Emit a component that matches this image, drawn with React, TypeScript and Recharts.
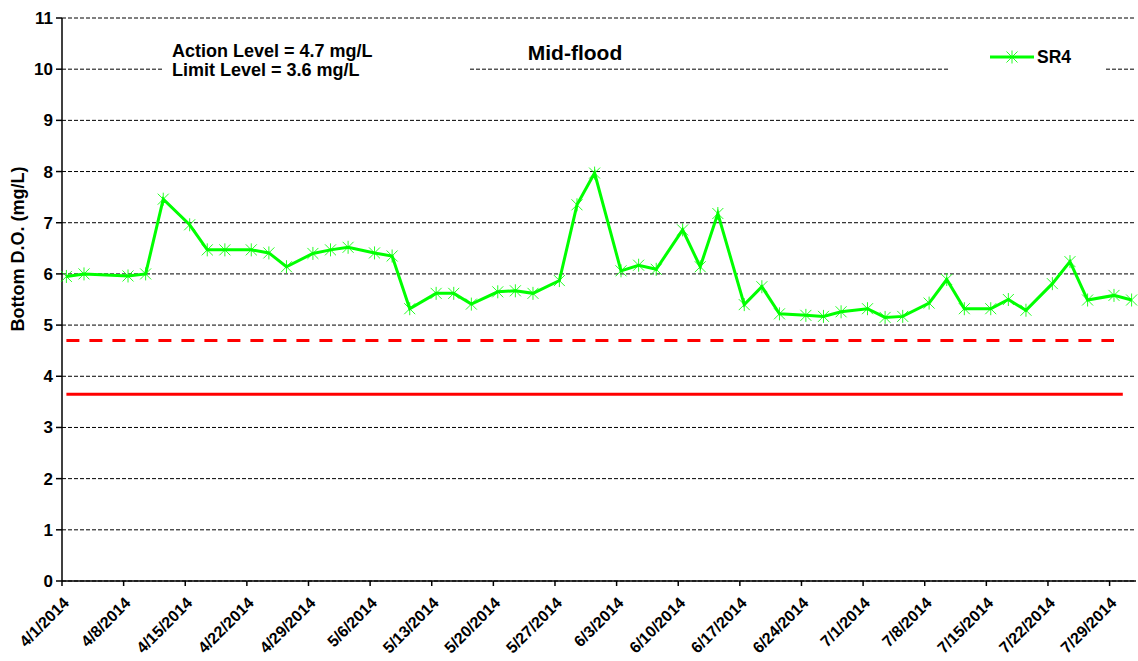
import React from "react";
import {
  LineChart,
  Line,
  XAxis,
  YAxis,
  CartesianGrid,
  ReferenceLine,
} from "recharts";

// sampling dates (2014) and bottom DO readings at SR4
const sampleDates = [
  "4/1", "4/3", "4/8", "4/10", "4/12", "4/15", "4/17", "4/19", "4/22", "4/24",
  "4/26", "4/29", "5/1", "5/3", "5/6", "5/8", "5/10", "5/13", "5/15", "5/17",
  "5/20", "5/22", "5/24", "5/27", "5/29", "5/31", "6/3", "6/5", "6/7", "6/10",
  "6/12", "6/14", "6/17", "6/19", "6/21", "6/24", "6/26", "6/28", "7/1", "7/3",
  "7/5", "7/8", "7/10", "7/12", "7/15", "7/17", "7/19", "7/22", "7/24", "7/26",
  "7/29", "7/31",
];
const sr4Values = [
  5.95, 6.0, 5.96, 6.0, 7.46, 6.96, 6.47, 6.47, 6.47, 6.41,
  6.14, 6.4, 6.47, 6.52, 6.41, 6.35, 5.32, 5.62, 5.62, 5.41,
  5.65, 5.67, 5.62, 5.87, 7.35, 7.97, 6.06, 6.17, 6.09, 6.86,
  6.14, 7.18, 5.4, 5.75, 5.22, 5.19, 5.17, 5.26, 5.32, 5.15,
  5.17, 5.43, 5.89, 5.32, 5.32, 5.5, 5.29, 5.81, 6.24, 5.49,
  5.58, 5.49,
];
const tickDates = [
  "4/1", "4/8", "4/15", "4/22", "4/29", "5/6", "5/13", "5/20", "5/27",
  "6/3", "6/10", "6/17", "6/24", "7/1", "7/8", "7/15", "7/22", "7/29",
];
const yTicks = [0, 1, 2, 3, 4, 5, 6, 7, 8, 9, 10, 11];
const actionLevel = 4.7;
const limitLevel = 3.65;
const actionEnd = "7/29";
const limitEnd = "7/30";
const axisEnd = "8/1";

const YEAR = 2014;
const START = Date.UTC(YEAR, 3, 1);
const DAY = 86400000;

function dayIndex(md: string) {
  const [m, d] = md.split("/").map(Number);
  return Math.round((Date.UTC(YEAR, m - 1, d) - START) / DAY);
}

function dayLabel(i: number) {
  const dt = new Date(START + i * DAY);
  return `${dt.getUTCMonth() + 1}/${dt.getUTCDate()}/${dt.getUTCFullYear()}`;
}

const data = sampleDates.map((d, i) => ({ day: dayIndex(d), sr4: sr4Values[i] }));
// Excel centres each date between tick marks, so ticks sit on the day boundaries
const xTicks = tickDates.map((d) => dayIndex(d) - 0.5);

const FONT = "'Liberation Sans', Arial, sans-serif";
const GREEN = "#00FF00";

const StarDot = (props: any) => {
  const { cx, cy } = props;
  if (cx == null || cy == null) return null;
  const r = 5.5;
  return (
    <g stroke={GREEN} strokeWidth={1} opacity={0.85}>
      <line x1={cx - r} y1={cy - r} x2={cx + r} y2={cy + r} />
      <line x1={cx - r} y1={cy + r} x2={cx + r} y2={cy - r} />
      <line x1={cx} y1={cy - r - 1} x2={cx} y2={cy + r + 1} />
    </g>
  );
};

const XTick = (props: any) => {
  const { x, y, payload } = props;
  return (
    <text
      transform={`translate(${x + 8},${y + 16}) rotate(-45)`}
      textAnchor="end"
      fontFamily={FONT}
      fontWeight="bold"
      fontSize={16}
      fill="#000"
    >
      {dayLabel(Math.round(payload.value + 0.5))}
    </text>
  );
};

const textStyle: React.CSSProperties = {
  position: "absolute",
  fontFamily: FONT,
  fontWeight: "bold",
  color: "#000",
  whiteSpace: "nowrap",
};

export default function App() {
  return (
    <div style={{ position: "absolute", left: 0, top: 0, width: 1138, height: 661, background: "#fff" }}>
      <LineChart
        width={1138}
        height={661}
        data={data}
        margin={{ top: 18, right: 2, left: 0, bottom: 0 }}
      >
        <CartesianGrid vertical={false} stroke="#000" strokeDasharray="4 2" />
        <XAxis
          dataKey="day"
          type="number"
          domain={[-0.5, dayIndex(axisEnd) - 0.5]}
          ticks={xTicks}
          interval={0}
          height={80}
          tick={<XTick />}
          tickSize={5}
          axisLine={{ stroke: "#000", strokeWidth: 1.5 }}
          tickLine={{ stroke: "#000", strokeWidth: 1.5 }}
        />
        <YAxis
          type="number"
          domain={[0, 11]}
          ticks={yTicks}
          interval={0}
          width={62}
          tickSize={6}
          tickMargin={3}
          axisLine={{ stroke: "#000", strokeWidth: 1.5 }}
          tickLine={{ stroke: "#000", strokeWidth: 1.5 }}
          tick={{ fontFamily: FONT, fontWeight: "bold", fontSize: 17, fill: "#000" }}
        />
        <ReferenceLine
          segment={[{ x: 0, y: actionLevel }, { x: dayIndex(actionEnd), y: actionLevel }]}
          stroke="#FF0000"
          strokeWidth={3}
          strokeDasharray="13 10"
        />
        <ReferenceLine
          segment={[{ x: 0, y: limitLevel }, { x: dayIndex(limitEnd), y: limitLevel }]}
          stroke="#FF0000"
          strokeWidth={3}
        />
        <Line
          dataKey="sr4"
          stroke={GREEN}
          strokeWidth={3}
          dot={<StarDot />}
          activeDot={false}
          isAnimationActive={false}
        />
      </LineChart>

      {/* white boxes behind the text, as in the original */}
      <div style={{ position: "absolute", left: 163, top: 40, width: 307, height: 42, background: "#fff" }} />
      <div style={{ position: "absolute", left: 950, top: 44, width: 155, height: 30, background: "#fff" }} />

      <div style={{ ...textStyle, left: 172, top: 42, fontSize: 18, lineHeight: "19px" }}>
        Action Level = 4.7 mg/L
        <br />
        Limit Level = 3.6 mg/L
      </div>
      <div style={{ ...textStyle, left: 575, top: 40, fontSize: 21, lineHeight: "25px", transform: "translateX(-50%)" }}>
        Mid-flood
      </div>

      <svg style={{ position: "absolute", left: 990, top: 50 }} width={44} height={14}>
        <line x1={0} y1={7} x2={44} y2={7} stroke={GREEN} strokeWidth={3} />
        <StarDot cx={22} cy={7} />
      </svg>
      <div style={{ ...textStyle, left: 1037, top: 46, fontSize: 17.5, lineHeight: "22px" }}>SR4</div>

      <div
        style={{
          ...textStyle,
          left: 18,
          top: 249,
          fontSize: 18,
          transform: "translate(-50%, -50%) rotate(-90deg)",
        }}
      >
        Bottom D.O. (mg/L)
      </div>
    </div>
  );
}
